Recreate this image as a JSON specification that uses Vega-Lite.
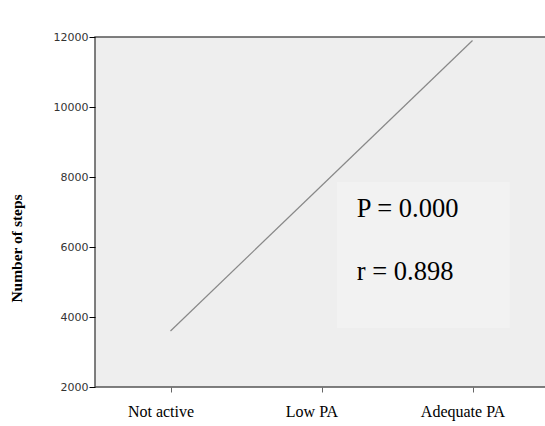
{
  "$schema": "https://vega.github.io/schema/vega-lite/v6.json",
  "width": 453,
  "height": 350,
  "autosize": "none",
  "padding": {"left": 95, "top": 37, "right": 0, "bottom": 39},
  "background": "white",
  "config": {
    "view": {"fill": "#eeeeee", "stroke": "#555555", "strokeWidth": 1.5}
  },
  "resolve": {"scale": {"x": "independent"}},
  "layer": [
    {
      "data": {"values": [{"x1": 0.534, "x2": 0.916, "y1": 3686, "y2": 7857}]},
      "mark": {"type": "rect", "fill": "#f2f2f2"},
      "encoding": {
        "x": {"field": "x1", "type": "quantitative", "scale": {"domain": [0, 1]}, "axis": null},
        "x2": {"field": "x2"},
        "y": {"field": "y1", "type": "quantitative", "scale": {"domain": [2000, 12000]}},
        "y2": {"field": "y2"}
      }
    },
    {
      "data": {"values": [{"group": "Not active", "steps": 3600}, {"group": "Low PA", "steps": 7750}, {"group": "Adequate PA", "steps": 11900}]},
      "mark": {"type": "line", "color": "#888888", "strokeWidth": 1.2},
      "encoding": {
        "x": {"field": "group", "type": "ordinal", "sort": null, "scale": {"type": "point", "padding": 0.5},
          "axis": {"title": null, "labelAngle": 0, "labelFont": "Liberation Serif", "labelFontSize": 16, "labelColor": "#000", "tickSize": 5, "tickColor": "#666", "labelPadding": 11, "labelOffset": -10, "domain": false}},
        "y": {"field": "steps", "type": "quantitative", "scale": {"domain": [2000, 12000], "nice": false},
          "axis": {"title": "Number of steps", "titleFont": "Liberation Serif", "titleFontSize": 15.5, "titleFontWeight": "bold", "titleColor": "#000", "titleX": -71, "titleY": 211, "titleAngle": -90, "titleBaseline": "bottom", "titleAlign": "center",
            "values": [2000, 4000, 6000, 8000, 10000, 12000], "format": "d", "labelFont": "DejaVu Sans", "labelFontSize": 11, "labelColor": "#333", "tickSize": 6, "tickColor": "#000", "labelPadding": 1, "domain": false, "grid": false}}
      }
    },
    {
      "data": {"values": [{"label": "P = 0.000", "px": 0.578, "py": 6857}, {"label": "r = 0.898", "px": 0.578, "py": 5057}]},
      "mark": {"type": "text", "font": "Liberation Serif", "fontSize": 26.5, "align": "left", "baseline": "alphabetic", "color": "#000"},
      "encoding": {
        "x": {"field": "px", "type": "quantitative", "scale": {"domain": [0, 1]}, "axis": null},
        "y": {"field": "py", "type": "quantitative"},
        "text": {"field": "label"}
      }
    }
  ]
}
